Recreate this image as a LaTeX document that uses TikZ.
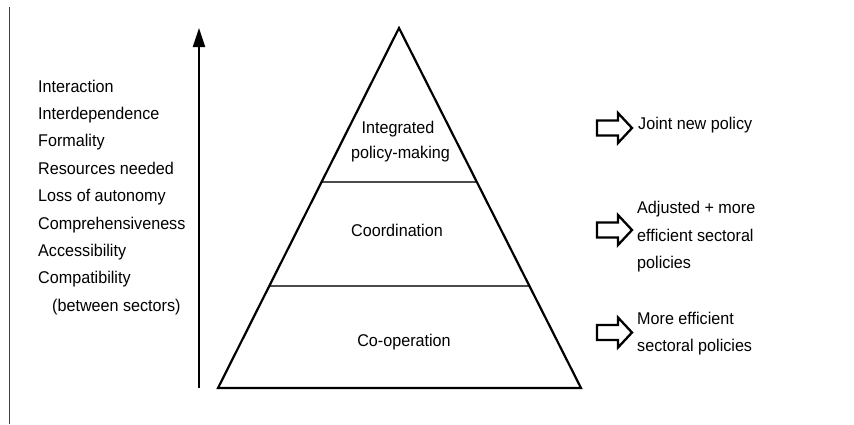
\documentclass[tikz,border=0pt]{standalone}
\usepackage{fontspec}
\setmainfont{Liberation Sans}[FakeStretch=0.95]
\usetikzlibrary{arrows.meta,calc}
\begin{document}
\begin{tikzpicture}[x=1pt,y=-1pt,
  txt/.style={inner sep=0pt,font=\fontsize{17}{20}\selectfont,text=black},
  lefttxt/.style={txt,anchor=base west},
  midtxt/.style={txt,anchor=base},
  outline/.style={line width=2.2pt,line join=miter,draw=black},
  divider/.style={line width=1.5pt,draw=black!70},
  blockarrow/.style={line width=2.3pt,draw=black,line join=miter}]
\useasboundingbox[fill=white] (0,0) rectangle (854,424);
% left rule
\coordinate (rt) at (9.5,7);
\coordinate (rb) at (9.5,424);
\draw[line width=1.3pt,black!75] (rt) -- (rb);
% left list
\foreach \t [count=\i from 0] in {Interaction,Interdependence,Formality,Resources needed,Loss of autonomy,Comprehensiveness,Accessibility,Compatibility}
  \node[lefttxt] (l\i) at (38,92+27.4*\i) {\t};
\node[lefttxt] (l8) at (52,311.2) {(between sectors)};
% vertical arrow
\coordinate (ab) at (199,388);
\coordinate (at) at (199,28);
\draw[line width=2.2pt,-{Triangle[length=19pt,width=12pt]}] (ab) -- (at);
% pyramid
\coordinate (apex) at (399,28);
\coordinate (bl) at (218,388);
\coordinate (br) at (581,388);
\coordinate (d1l) at ($(apex)!0.4278!(bl)$);
\coordinate (d1r) at ($(apex)!0.4278!(br)$);
\coordinate (d2l) at ($(apex)!0.7167!(bl)$);
\coordinate (d2r) at ($(apex)!0.7167!(br)$);
\draw[divider] (d1l) -- (d1r);
\draw[divider] (d2l) -- (d2r);
\draw[outline] (apex) -- (bl) -- (br) -- cycle;
\node[midtxt] (p1a) at (398,133.5) {Integrated};
\node[midtxt] (p1b) at (400.5,158.5) {policy-making};
\node[midtxt] (p2) at (397,236) {Coordination};
\node[midtxt] (p3) at (404,346) {Co-operation};
% block arrows
\foreach \n/\c in {a1/128,a2/230,a3/332.5}{
  \coordinate (\n) at (597,\c);
  \draw[blockarrow] (\n) ++(0,-7.5) -- ++(21,0) -- ++(0,-7.5) -- ++(14,15) -- ++(-14,15) -- ++(0,-7.5) -- ++(-21,0) -- cycle;
}
% right texts
\node[lefttxt] (r1) at (638,129.5) {Joint new policy};
\node[lefttxt] (r2a) at (637,213.3) {Adjusted + more};
\node[lefttxt] (r2b) at (637,241) {efficient sectoral};
\node[lefttxt] (r2c) at (637,268.5) {policies};
\node[lefttxt] (r3a) at (637,324) {More efficient};
\node[lefttxt] (r3b) at (637,351.5) {sectoral policies};
\end{tikzpicture}
\end{document}
